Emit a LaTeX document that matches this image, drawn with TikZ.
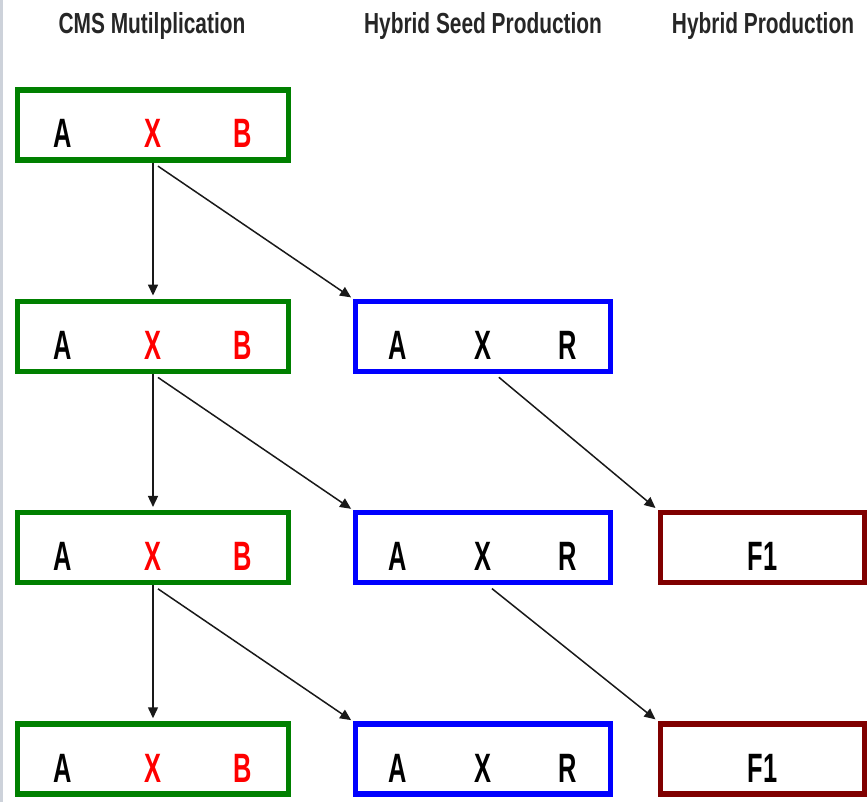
\documentclass[tikz,border=0pt]{standalone}
\usepackage{fontspec}
\setmainfont{Liberation Sans}
\newfontfamily\headfont[FakeStretch=0.72]{Liberation Sans}
\newfontfamily\letterfont[FakeStretch=0.62]{Liberation Sans}
\usepackage{tikz}
\usetikzlibrary{arrows.meta, positioning}
\definecolor{cmsgreen}{RGB}{0,128,0}
\definecolor{seedblue}{RGB}{0,0,255}
\definecolor{hybridred}{RGB}{128,0,0}
\definecolor{crossred}{RGB}{255,0,0}
\definecolor{edgegray}{RGB}{205,210,218}
\newcommand{\cmstext}{\makebox[90pt]{A}\makebox[90pt]{\color{crossred}X}\makebox[90pt]{\color{crossred}B}}
\newcommand{\seedtext}{\makebox[85pt]{A}\makebox[85pt]{X}\makebox[85pt]{R}}
\tikzset{
    headline/.style={anchor=base, font=\headfont\bfseries\fontsize{29}{34}\selectfont, text=black!85},
    linebox/.style={rectangle, draw, line width=5.5pt, minimum height=70pt, text height=46pt, text depth=0pt, inner sep=0pt, text centered, font=\letterfont\bfseries\fontsize{41}{48}\selectfont},
    cms/.style={linebox, draw=cmsgreen, minimum width=271pt},
    seed/.style={linebox, draw=seedblue, minimum width=251pt},
    hybrid/.style={linebox, draw=hybridred, minimum width=204.5pt},
    flow/.style={-{Triangle[length=11pt,width=10pt]}, line width=1.5pt, black!90}
}
\begin{document}
\begin{tikzpicture}[x=1pt, y=-1pt]
    \useasboundingbox (0,0) rectangle (867,802);
    \draw[edgegray, line width=3pt] (1.5,0) -- (1.5,802);

    % Column headings
    \node[headline] (hcms) at (152,34) {CMS Mutilplication};
    \node[headline] (hseed) at (483,34) {Hybrid Seed Production};
    \node[headline] (hhyb) at (763,34) {Hybrid Production};

    % CMS multiplication
    \node[cms] (g1) at (153,125) {\cmstext};
    \node[cms] (g2) at (153,336.3) {\cmstext};
    \node[cms] (g3) at (153,547.7) {\cmstext};
    \node[cms] (g4) at (153,759) {\cmstext};

    % Hybrid seed production
    \node[seed] (b2) at (483,336.3) {\seedtext};
    \node[seed] (b3) at (483,547.7) {\seedtext};
    \node[seed] (b4) at (483,759) {\seedtext};

    % Hybrid production
    \node[hybrid] (f3) at (762.8,547.7) {F1};
    \node[hybrid] (f4) at (762.8,759) {F1};

    % Arrows
    \draw[flow, shorten >=3pt] (g1.south) -- (g2.north);
    \draw[flow, shorten >=3pt] (g2.south) -- (g3.north);
    \draw[flow, shorten >=3pt] (g3.south) -- (g4.north);
    \draw[flow, shorten <=6pt, shorten >=2pt] (g1.south) -- (b2.north west);
    \draw[flow, shorten <=6pt, shorten >=2pt] (g2.south) -- (b3.north west);
    \draw[flow, shorten <=6pt, shorten >=2pt] (g3.south) -- (b4.north west);
    \draw[flow, shorten <=5pt, shorten >=3pt] ([xshift=12pt]b2.south) -- (f3.north west);
    \draw[flow, shorten <=5pt, shorten >=3pt] ([xshift=5pt]b3.south) -- (f4.north west);
\end{tikzpicture}
\end{document}
